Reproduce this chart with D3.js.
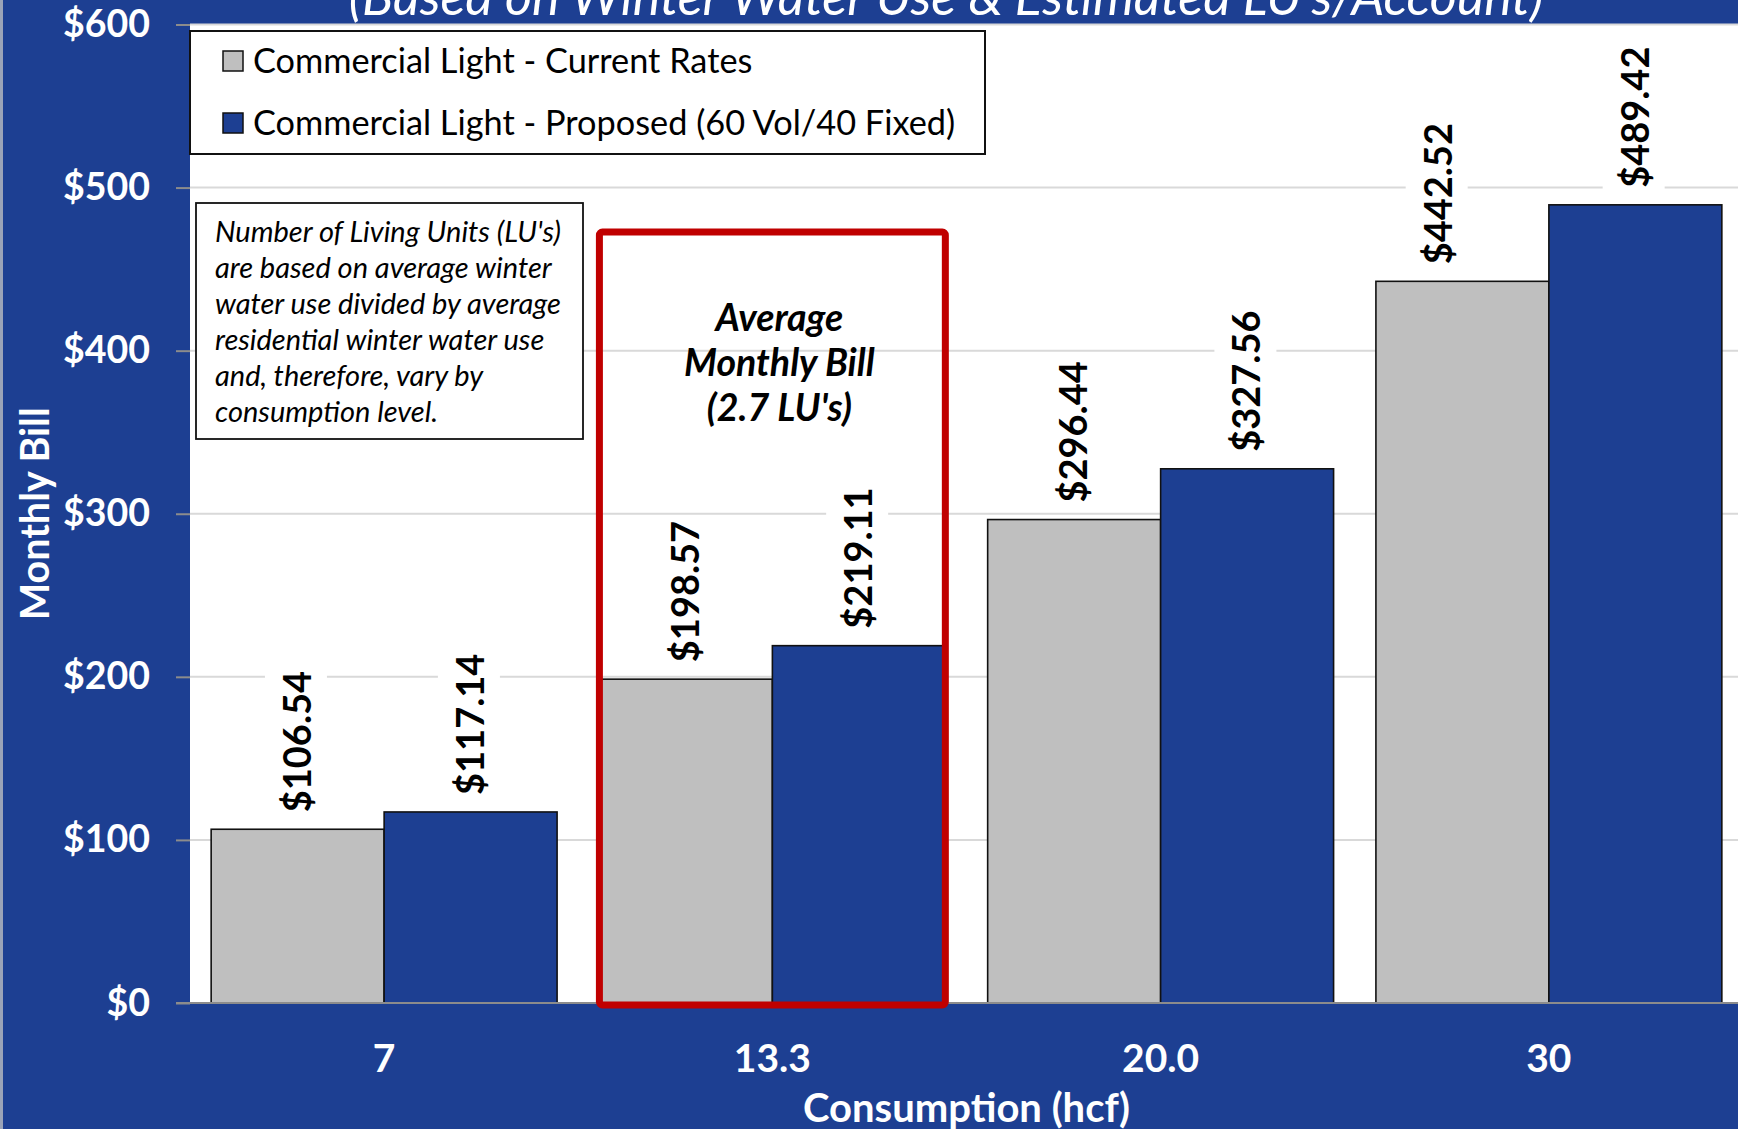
<!DOCTYPE html>
<html>
<head>
<meta charset="utf-8">
<script src="https://cdn.jsdelivr.net/npm/d3@7"></script>
<style>
  body { margin: 0; background: #1d3f92; overflow: hidden; }
  text { font-family: Lato, "Open Sans", sans-serif; }
</style>
</head>
<body>
<div class="main_area"></div>
<script>
// chart values
const categories = ["7", "13.3", "20.0", "30"];
const currentRates = [106.54, 198.57, 296.44, 442.52];
const proposedRates = [117.14, 219.11, 327.56, 489.42];
const seriesNames = ["Commercial Light - Current Rates", "Commercial Light - Proposed (60 Vol/40 Fixed)"];
const yTickValues = [0, 100, 200, 300, 400, 500, 600];
const titleText = "(Based on Winter Water Use & Estimated LU's/Account)";
const noteLines = ["Number of Living Units (LU's)", "are based on average winter", "water use divided by average",
  "residential winter water use", "and, therefore, vary by", "consumption level."];
const highlightLines = ["Average", "Monthly Bill", "(2.7 LU's)"];
const highlightCategory = "13.3";

function drawChart() {
  const width = 1738, height = 1129;
  const blue = "#1d3f92", grey = "#bfbfbf";

  const svg = d3.select(".main_area")
    .append("svg")
    .attr("width", width)
    .attr("height", height);

  // thin frame line on the left
  svg.append("rect").attr("x", 0).attr("y", 0).attr("width", 3).attr("height", height).attr("fill", "#9aa3b8");

  const plotLeft = 190, plotRight = 1743, plotTop = 24.5, plotBottom = 1003;

  svg.append("rect")
    .attr("x", plotLeft).attr("y", plotTop)
    .attr("width", plotRight - plotLeft).attr("height", plotBottom - plotTop)
    .attr("fill", "#ffffff");

  const x = d3.scaleBand()
    .domain(categories)
    .range([plotLeft, plotRight])
    .paddingInner(0.109)
    .paddingOuter(0.0545);

  const xSub = d3.scaleBand()
    .domain([0, 1])
    .range([0, x.bandwidth()]);

  const y = d3.scaleLinear()
    .domain([0, 600])
    .range([plotBottom, plotTop]);

  // gridlines
  svg.append("g")
    .selectAll("line")
    .data(yTickValues.slice(1))
    .enter().append("line")
      .attr("x1", plotLeft).attr("x2", plotRight)
      .attr("y1", d => y(d)).attr("y2", d => y(d))
      .attr("stroke", "#d9d9d9").attr("stroke-width", 2);

  // y axis
  const yAxis = d3.axisLeft(y)
    .tickValues(yTickValues)
    .tickSize(14)
    .tickPadding(26)
    .tickFormat(d => "$" + d);

  const yAxisGroup = svg.append("g")
    .attr("transform", "translate(" + plotLeft + ",0)")
    .call(yAxis);
  yAxisGroup.select(".domain").remove();
  yAxisGroup.selectAll(".tick line").attr("stroke", "#8c8c8c").attr("stroke-width", 2);
  yAxisGroup.selectAll(".tick text")
    .attr("fill", "#ffffff")
    .style("font-size", "37.5px")
    .style("font-weight", "bold");

  // bars
  const rows = categories.map((c, i) => ({cat: c, vals: [currentRates[i], proposedRates[i]]}));

  const groups = svg.append("g")
    .selectAll("g")
    .data(rows)
    .enter().append("g")
      .attr("transform", d => "translate(" + x(d.cat) + ",0)");

  groups.selectAll("rect")
    .data(d => d.vals.map((v, k) => ({cat: d.cat, k: k, v: v})))
    .enter().append("rect")
      .attr("x", d => xSub(d.k))
      .attr("y", d => y(d.v))
      .attr("width", xSub.bandwidth())
      .attr("height", d => y(0) - y(d.v))
      .attr("fill", d => d.k === 0 ? grey : blue)
      .attr("stroke", "#111")
      .attr("stroke-width", 1.6);

  // x axis line
  svg.append("line")
    .attr("x1", plotLeft - 14).attr("x2", plotRight)
    .attr("y1", y(0)).attr("y2", y(0))
    .attr("stroke", "#8c8c8c").attr("stroke-width", 2);

  // data labels (rotated, on white boxes)
  const labels = groups.selectAll("g.lbl")
    .data(d => d.vals.map((v, k) => ({cat: d.cat, k: k, v: v})))
    .enter().append("g")
      .attr("class", "lbl")
      .attr("transform", d => {
        let cx = xSub(d.k) + xSub.bandwidth() / 2;
        if (d.cat === "30" && d.k === 0) cx -= 24; // label dragged left in the original
        return "translate(" + cx + "," + (y(d.v) - 17) + ") rotate(-90)";
      });

  labels.append("text")
    .attr("x", 0).attr("y", 0)
    .attr("dy", "0.35em")
    .attr("fill", "#000")
    .style("font-size", "38px")
    .style("font-weight", "bold")
    .text(d => "$" + d.v.toFixed(2));

  labels.each(function() {
    const g = d3.select(this);
    const bb = g.select("text").node().getBBox();
    g.insert("rect", "text")
      .attr("x", bb.x - 4).attr("y", bb.y - 8)
      .attr("width", bb.width + 8).attr("height", bb.height + 16)
      .attr("fill", "#ffffff");
  });

  // x tick labels
  svg.append("g")
    .selectAll("text")
    .data(categories)
    .enter().append("text")
      .attr("x", d => x(d) + x.bandwidth() / 2)
      .attr("y", 1072)
      .attr("text-anchor", "middle")
      .attr("fill", "#ffffff")
      .style("font-size", "39px")
      .style("font-weight", "bold")
      .text(d => d);

  // axis titles
  svg.append("text")
    .attr("x", (plotLeft + plotRight) / 2)
    .attr("y", 1122)
    .attr("text-anchor", "middle")
    .attr("fill", "#ffffff")
    .style("font-size", "40px")
    .style("font-weight", "bold")
    .text("Consumption (hcf)");

  svg.append("text")
    .attr("transform", "translate(35," + ((plotTop + plotBottom) / 2) + ") rotate(-90)")
    .attr("dy", "0.35em")
    .attr("text-anchor", "middle")
    .attr("fill", "#ffffff")
    .style("font-size", "39.5px")
    .style("font-weight", "bold")
    .text("Monthly Bill");

  // title, cut off by the top edge as in the original
  svg.append("text")
    .attr("x", 946)
    .attr("y", 15)
    .attr("text-anchor", "middle")
    .attr("fill", "#ffffff")
    .style("font-size", "52px")
    .style("font-style", "italic")
    .text(titleText);

  // highlight box around the average-bill group
  svg.append("rect")
    .attr("x", x(highlightCategory)).attr("y", 232)
    .attr("width", x.bandwidth()).attr("height", y(0) - 232 + 2)
    .attr("rx", 3)
    .attr("fill", "none")
    .attr("stroke", "#c00000")
    .attr("stroke-width", 7);

  svg.append("g")
    .selectAll("text")
    .data(highlightLines)
    .enter().append("text")
      .attr("x", x(highlightCategory) + x.bandwidth() / 2 + 7)
      .attr("y", (d, i) => 318 + i * 45)
      .attr("dy", "0.35em")
      .attr("text-anchor", "middle")
      .attr("fill", "#000")
      .style("font-size", "37.5px")
      .style("font-weight", "bold")
      .style("font-style", "italic")
      .text(d => d);

  // legend
  const legend = svg.append("g");
  legend.append("rect")
    .attr("x", 190).attr("y", 31)
    .attr("width", 795).attr("height", 123)
    .attr("fill", "#fff").attr("stroke", "#111").attr("stroke-width", 2);

  const items = legend.selectAll("g")
    .data(seriesNames)
    .enter().append("g")
      .attr("transform", (d, i) => "translate(223," + (61 + i * 62) + ")");
  items.append("rect")
    .attr("x", 0).attr("y", -10)
    .attr("width", 20).attr("height", 20)
    .attr("fill", (d, i) => i === 0 ? grey : blue)
    .attr("stroke", "#111").attr("stroke-width", 1.5);
  items.append("text")
    .attr("x", 30).attr("y", 0)
    .attr("dy", "0.35em")
    .attr("fill", "#000")
    .style("font-size", "34.3px")
    .text(d => d);

  // note box
  const note = svg.append("g");
  note.append("rect")
    .attr("x", 196).attr("y", 203)
    .attr("width", 387).attr("height", 236)
    .attr("fill", "#fff").attr("stroke", "#111").attr("stroke-width", 1.8);
  note.selectAll("text")
    .data(noteLines)
    .enter().append("text")
      .attr("x", 215)
      .attr("y", (d, i) => 232 + i * 36)
      .attr("dy", "0.35em")
      .attr("fill", "#000")
      .style("font-size", "29px")
      .style("font-style", "italic")
      .text(d => d);

  return svg;
}

drawChart();
</script>
</body>
</html>
